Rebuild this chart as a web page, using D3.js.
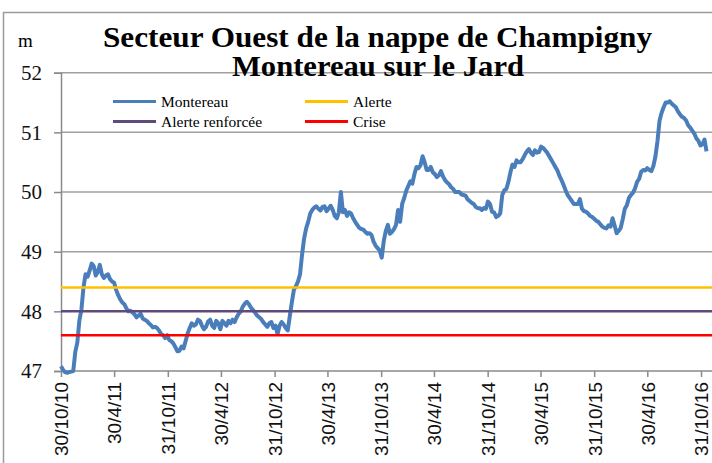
<!DOCTYPE html>
<html>
<head>
<meta charset="utf-8">
<script src="https://cdn.jsdelivr.net/npm/d3@7"></script>
<style>
  body { margin: 0; background: #fff; }
  svg { display: block; }
</style>
</head>
<body>
<svg id="chart" width="712" height="463"></svg>
<script>
// niveau de la nappe, un point tous les 7 jours depuis le 30/10/2010
var startDate = "2010-10-30";
var stepDays = 7;
var montereau = [
  47.08, 47.02, 46.98, 46.97, 46.98, 46.99, 47.00, 47.32, 47.48, 47.85,
  48.03, 48.40, 48.62, 48.58, 48.68, 48.80, 48.76, 48.60, 48.66, 48.78,
  48.62, 48.56, 48.60, 48.62, 48.54, 48.50, 48.48, 48.36, 48.27, 48.20,
  48.15, 48.12, 48.05, 48.00, 48.01, 47.98, 47.95, 47.90, 47.93, 47.96,
  47.88, 47.86, 47.84, 47.80, 47.77, 47.73, 47.74, 47.72, 47.68, 47.62,
  47.60, 47.55, 47.60, 47.52, 47.50, 47.46, 47.40, 47.33, 47.34, 47.41,
  47.38, 47.50, 47.63, 47.72, 47.80, 47.76, 47.78, 47.86, 47.84, 47.76,
  47.70, 47.74, 47.83, 47.86, 47.76, 47.72, 47.84, 47.80, 47.70, 47.84,
  47.80, 47.76, 47.84, 47.80, 47.86, 47.82, 47.90, 47.96, 48.00, 48.08,
  48.13, 48.16, 48.12, 48.06, 48.02, 47.98, 47.93, 47.90, 47.87, 47.82,
  47.78, 47.74, 47.80, 47.82, 47.72, 47.76, 47.62, 47.76, 47.82, 47.78,
  47.72, 47.68, 47.92, 48.15, 48.36, 48.42, 48.50, 48.62, 48.95, 49.22,
  49.39, 49.50, 49.64, 49.70, 49.74, 49.76, 49.72, 49.69, 49.75, 49.76,
  49.68, 49.72, 49.77, 49.70, 49.60, 49.56, 49.66, 50.00, 49.66, 49.70,
  49.60, 49.66, 49.64, 49.56, 49.50, 49.45, 49.40, 49.38, 49.37, 49.33,
  49.30, 49.31, 49.28, 49.17, 49.10, 49.06, 49.02, 48.90, 49.18, 49.35,
  49.45, 49.30, 49.33, 49.38, 49.45, 49.70, 49.50, 49.80, 49.90, 50.02,
  50.10, 50.18, 50.14, 50.30, 50.42, 50.40, 50.45, 50.60, 50.50, 50.37,
  50.37, 50.42, 50.33, 50.30, 50.25, 50.28, 50.35, 50.26, 50.20, 50.16,
  50.13, 50.08, 50.05, 50.00, 50.00, 50.00, 49.96, 49.95, 49.94, 49.88,
  49.85, 49.82, 49.80, 49.75, 49.73, 49.73, 49.70, 49.73, 49.72, 49.84,
  49.80, 49.67, 49.66, 49.58, 49.60, 49.64, 49.95, 50.03, 50.05, 50.17,
  50.33, 50.46, 50.42, 50.53, 50.50, 50.50, 50.55, 50.62, 50.68, 50.72,
  50.66, 50.62, 50.70, 50.66, 50.67, 50.76, 50.74, 50.70, 50.66, 50.60,
  50.54, 50.48, 50.42, 50.36, 50.27, 50.20, 50.12, 50.03, 49.95, 49.90,
  49.85, 49.80, 49.80, 49.80, 49.88, 49.72, 49.68, 49.67, 49.64, 49.60,
  49.58, 49.55, 49.52, 49.50, 49.46, 49.42, 49.40, 49.39, 49.44, 49.42,
  49.56, 49.44, 49.31, 49.35, 49.40, 49.55, 49.72, 49.78, 49.90, 49.95,
  49.99, 50.06, 50.17, 50.22, 50.34, 50.37, 50.36, 50.40, 50.37, 50.35,
  50.44, 50.60, 50.86, 51.20, 51.33, 51.42, 51.50, 51.50, 51.52, 51.48,
  51.45, 51.42, 51.35, 51.30, 51.26, 51.24, 51.20, 51.12, 51.08, 51.03,
  50.98, 50.90, 50.86, 50.78, 50.80, 50.88, 50.68
];

// seuils
var seuilNames = ["Alerte", "Alerte renforcée", "Crise"];
var seuilValues = [48.4, 48.0, 47.6];
var seuilColors = ["#ffc000", "#604a7b", "#ff0000"];

var xTickDates = ["2010-10-30", "2011-04-30", "2011-10-31", "2012-04-30", "2012-10-31",
  "2013-04-30", "2013-10-31", "2014-04-30", "2014-10-31", "2015-04-30",
  "2015-10-31", "2016-04-30", "2016-10-31"];
var yTicks = [47, 48, 49, 50, 51, 52];

var parse = d3.timeParse("%Y-%m-%d");
var fmt = d3.timeFormat("%-d/%-m/%y");
var t0 = parse(startDate);
var data = montereau.map(function(v, i) {
  return { date: d3.timeDay.offset(t0, i * stepDays), value: v };
});

var svg = d3.select("#chart");

var x = d3.scaleTime()
  .domain([parse("2010-10-30"), parse("2016-10-31")])
  .range([61, 701]);
var y = d3.scaleLinear().domain([47, 52]).range([371, 72.7]);

// cadre
svg.append("rect")
  .attr("x", 3.5).attr("y", 12.5)
  .attr("width", 760).attr("height", 500)
  .attr("fill", "none").attr("stroke", "#9a9a9a").attr("stroke-width", 1.5);

// grille
svg.append("g").selectAll("line")
  .data(yTicks.slice(1))
  .enter().append("line")
  .attr("x1", 61).attr("x2", 712)
  .attr("y1", function(d) { return y(d); })
  .attr("y2", function(d) { return y(d); })
  .attr("stroke", "#a0a0a0").attr("stroke-width", 1.5);

// axe y
var yAxis = svg.append("g")
  .attr("transform", "translate(61,0)")
  .call(d3.axisLeft(y).tickValues(yTicks).tickFormat(d3.format("d")).tickSize(7));
yAxis.select(".domain").attr("stroke", "#8a8a8a").attr("stroke-width", 1.5);
yAxis.selectAll(".tick line").attr("stroke", "#8a8a8a").attr("stroke-width", 1.5);
yAxis.selectAll(".tick text")
  .attr("x", -19)
  .style("font-family", "'Liberation Serif', serif")
  .style("font-size", "21px")
  .attr("fill", "#111");

// axe x
var xAxis = svg.append("g")
  .attr("transform", "translate(0,371)")
  .call(d3.axisBottom(x).tickValues(xTickDates.map(parse)).tickFormat(fmt).tickSize(6));
xAxis.select(".domain").attr("stroke", "#8a8a8a").attr("stroke-width", 1.5)
  .attr("d", "M61,0H712");
xAxis.selectAll(".tick line").attr("stroke", "#8a8a8a").attr("stroke-width", 1.5);
xAxis.selectAll(".tick text")
  .attr("transform", "rotate(-90)")
  .attr("x", -11).attr("y", 0).attr("dy", "0.36em")
  .style("text-anchor", "end")
  .style("font-family", "'Liberation Sans', Arial, sans-serif")
  .style("font-size", "19px")
  .attr("fill", "#111");

// courbe
var line = d3.line()
  .x(function(d) { return x(d.date); })
  .y(function(d) { return y(d.value); });

svg.append("path")
  .datum(data)
  .attr("d", line)
  .attr("fill", "none")
  .attr("stroke", "#4a7ebb")
  .attr("stroke-width", 4)
  .attr("stroke-linejoin", "round");

// seuils sur toute la période
var seuilSpan = [parse("2010-10-30"), parse("2016-12-20")];
seuilValues.forEach(function(v, i) {
  svg.append("path")
    .datum(seuilSpan.map(function(d) { return { date: d, value: v }; }))
    .attr("d", line)
    .attr("fill", "none")
    .attr("stroke", seuilColors[i])
    .attr("stroke-width", 2.5);
});

// titre
svg.append("text")
  .attr("x", 103).attr("y", 47)
  .attr("textLength", 549).attr("lengthAdjust", "spacingAndGlyphs")
  .style("font-family", "'Liberation Serif', serif")
  .style("font-weight", "bold").style("font-size", "29px")
  .text("Secteur Ouest de la nappe de Champigny");
svg.append("text")
  .attr("x", 232).attr("y", 76)
  .attr("textLength", 292).attr("lengthAdjust", "spacingAndGlyphs")
  .style("font-family", "'Liberation Serif', serif")
  .style("font-weight", "bold").style("font-size", "29px")
  .text("Montereau sur le Jard");

svg.append("text")
  .attr("x", 18).attr("y", 47)
  .style("font-family", "'Liberation Serif', serif")
  .style("font-size", "19px")
  .text("m");

// légende
var legendItems = [
  { name: "Montereau", color: "#4a7ebb", x: 113, y: 101.5 },
  { name: seuilNames[0], color: seuilColors[0], x: 305, y: 101.5 },
  { name: seuilNames[1], color: seuilColors[1], x: 113, y: 121.5 },
  { name: seuilNames[2], color: seuilColors[2], x: 305, y: 121.5 }
];
var lg = svg.append("g").selectAll("g")
  .data(legendItems).enter().append("g")
  .attr("transform", function(d) { return "translate(" + d.x + "," + d.y + ")"; });
lg.append("line")
  .attr("x1", 0).attr("x2", 43)
  .attr("stroke", function(d) { return d.color; })
  .attr("stroke-width", 3);
lg.append("text")
  .attr("x", 48).attr("dy", "0.33em")
  .style("font-family", "'Liberation Serif', serif")
  .style("font-size", "15.5px")
  .text(function(d) { return d.name; });
</script>
</body>
</html>
